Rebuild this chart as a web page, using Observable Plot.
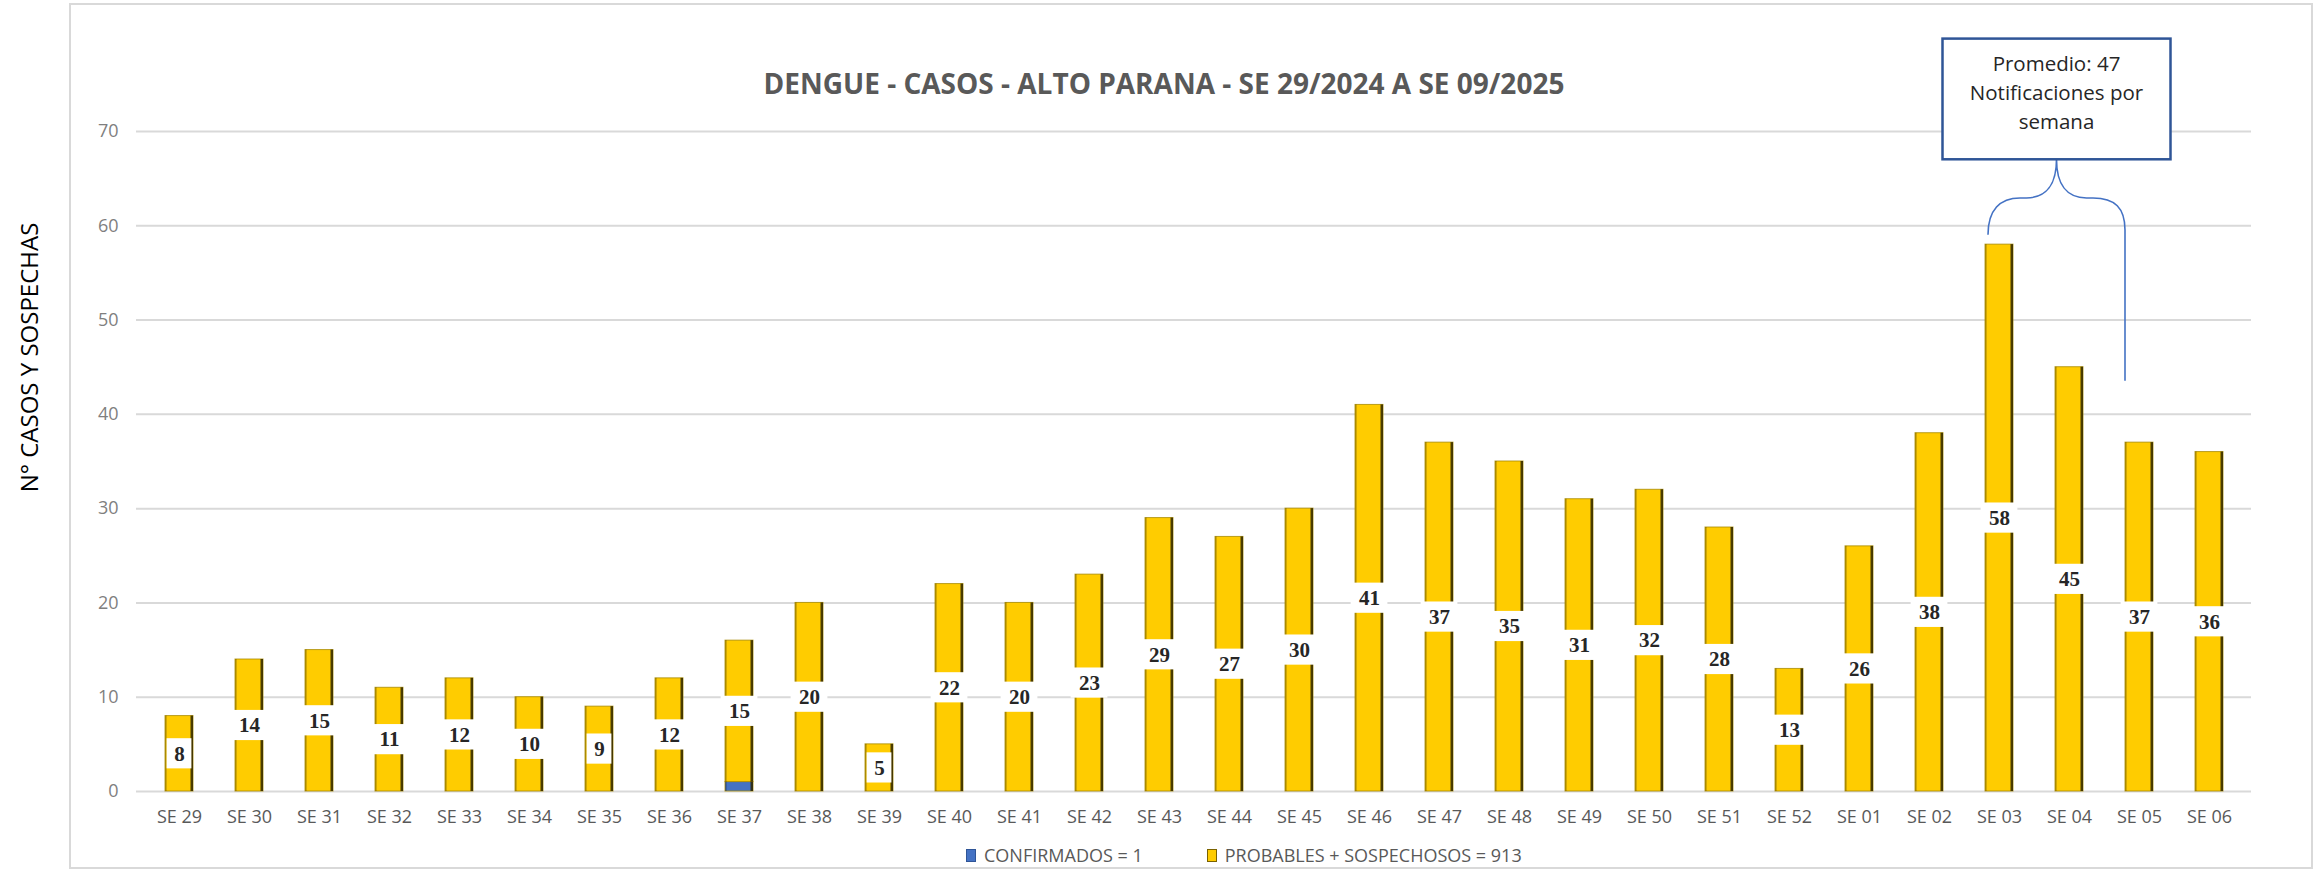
<!DOCTYPE html>
<html>
<head>
<meta charset="utf-8">
<script src="https://cdn.jsdelivr.net/npm/d3@7"></script>
<script src="https://cdn.jsdelivr.net/npm/@observablehq/plot@0.6"></script>
<style>
  html, body { margin: 0; padding: 0; background: #fff; }
  #wrap { position: relative; width: 2317px; height: 869px; overflow: hidden; font-family: "Open Sans", sans-serif; }
  #frame { position: absolute; left: 69px; top: 3px; width: 2240px; height: 862px; border: 2px solid #d9d9d9; box-sizing: content-box; }
  #chart { position: absolute; left: 0; top: 0; }
  #legend { position: absolute; left: 966px; top: 845px; display: flex; align-items: center; font-size: 18px; line-height: 20px; color: #595959; white-space: nowrap; }
  #legend .sw { display: inline-block; width: 8px; height: 11px; margin-right: 8px; }
  #legend .item { display: flex; align-items: center; margin-right: 64px; }
</style>
</head>
<body>
<div id="wrap">
  <div id="frame"></div>
  <div id="chart"></div>
  <div id="legend"></div>
</div>
<script>
// ---- data ----
const weeks = ["SE 29","SE 30","SE 31","SE 32","SE 33","SE 34","SE 35","SE 36","SE 37","SE 38","SE 39","SE 40","SE 41","SE 42","SE 43","SE 44","SE 45","SE 46","SE 47","SE 48","SE 49","SE 50","SE 51","SE 52","SE 01","SE 02","SE 03","SE 04","SE 05","SE 06"];
const confirmados = [0,0,0,0,0,0,0,0,1,0,0,0,0,0,0,0,0,0,0,0,0,0,0,0,0,0,0,0,0,0];
const probables   = [8,14,15,11,12,10,9,12,15,20,5,22,20,23,29,27,30,41,37,35,31,32,28,13,26,38,58,45,37,36];
const series = ["CONFIRMADOS = 1", "PROBABLES + SOSPECHOSOS = 913"];
const seriesColors = ["#4472C4", "#FFCC00"];
const yTicks = [0,10,20,30,40,50,60,70];
const title = "DENGUE - CASOS - ALTO PARANA - SE 29/2024 A SE 09/2025";
const yLabel = "N° CASOS Y SOSPECHAS";
const calloutLines = ["Promedio: 47", "Notificaciones por", "semana"];
const braceWeeks = ["SE 03", "SE 05"];

// annotation anchors (data units)
const braceEndValues = [59, 43.5];
const braceLevel = 62.9;
const boxBottomValue = 67;
const boxTopValue = 79.8;

// ---- tables ----
const rows = [];
weeks.forEach((w, i) => {
  rows.push({week: w, serie: series[0], v: confirmados[i]});
  rows.push({week: w, serie: series[1], v: probables[i]});
});
const labels = weeks.map((w, i) => ({week: w, y: confirmados[i] + probables[i] / 2, txt: String(probables[i])}));

function callout(index, scales) {
  const x = scales.x, y = scales.y;
  const xl = x(braceWeeks[0]) + 3;
  const xr = x(braceWeeks[1]);
  const xm = (xl + xr) / 2;
  const yL = y(braceEndValues[0]), yR = y(braceEndValues[1]);
  const yH = y(braceLevel), yB = y(boxBottomValue), yT = y(boxTopValue);
  const g = d3.create("svg:g");
  const p = d3.path();
  p.moveTo(xl, yL);
  p.bezierCurveTo(xl, yH + 12, xl + 12, yH, xl + 32, yH);
  p.lineTo(xm - 30, yH);
  p.bezierCurveTo(xm - 10, yH, xm, yH - 14, xm, yB);
  p.bezierCurveTo(xm, yH - 14, xm + 10, yH, xm + 30, yH);
  p.lineTo(xr - 32, yH);
  p.bezierCurveTo(xr - 10, yH, xr, yH + 10, xr, yH + 32);
  p.lineTo(xr, yR);
  g.append("path").attr("d", p.toString()).attr("fill", "none").attr("stroke", "#4472C4").attr("stroke-width", 1.6);
  g.append("rect").attr("x", xm - 114).attr("y", yT).attr("width", 228).attr("height", yB - yT)
    .attr("fill", "white").attr("stroke", "#2F5597").attr("stroke-width", 2.5);
  const cy = (yT + yB) / 2 - 6;
  calloutLines.forEach((t, i) => {
    g.append("text").attr("x", xm).attr("y", cy + (i - 1) * 29).attr("dy", "0.35em")
      .attr("text-anchor", "middle").attr("font-family", "Open Sans").attr("font-size", 20.5)
      .attr("fill", "#262626").text(t);
  });
  return g.node();
}

const chart = Plot.plot({
  width: 2317,
  height: 869,
  marginLeft: 136,
  marginRight: 66,
  marginTop: 131,
  marginBottom: 78,
  style: {background: "none", fontFamily: "Open Sans", fontSize: "18px", overflow: "visible"},
  x: {domain: weeks, paddingInner: 0.6, paddingOuter: 0.3, axis: null},
  y: {domain: [0, 70], axis: null},
  color: {domain: series, range: seriesColors},
  marks: [
    Plot.ruleY(yTicks, {stroke: "#d9d9d9", strokeWidth: 2}),
    Plot.axisY({ticks: yTicks, tickSize: 0, tickPadding: 18, fontSize: 18, color: "#7f7f7f", label: null}),
    Plot.axisX({tickSize: 0, tickPadding: 19, fontSize: 18, color: "#595959", label: null}),
    Plot.barY(rows, {x: "week", y: "v", fill: "serie", order: series, stroke: "#a88a00", strokeWidth: 1, strokeOpacity: 0.8}),
    Plot.barY(rows, {x: "week", y: "v", z: "serie", order: series, fill: "black", fillOpacity: 0.22, insetRight: 26.2}),
    Plot.barY(rows, {x: "week", y: "v", z: "serie", order: series, fill: "#2b2300", fillOpacity: 0.85, insetLeft: 25.5}),
    Plot.barY(labels.filter(d => d.txt.length === 1), {x: "week", y1: d => d.y - 1.6, y2: d => d.y + 1.6, fill: "white", insetLeft: 1.6, insetRight: 1.6}),
    Plot.barY(labels.filter(d => d.txt.length > 1), {x: "week", y1: d => d.y - 1.6, y2: d => d.y + 1.6, fill: "white", insetLeft: -4.4, insetRight: -4.4}),
    Plot.text(labels, {x: "week", y: "y", text: "txt", fontFamily: "Liberation Serif", fontWeight: "bold", fontSize: 21, fill: "#262626"}),
    Plot.text([title], {frameAnchor: "top", lineAnchor: "middle", textAnchor: "middle", dx: -30, dy: -46, fontSize: 28, fontWeight: "bold", fill: "#595959"}),
    Plot.text([yLabel], {frameAnchor: "left", lineAnchor: "middle", textAnchor: "middle", rotate: -90, dx: -106, dy: -104, fontSize: 24, fill: "#000"}),
    callout
  ]
});
document.getElementById("chart").appendChild(chart);

// legend
const legend = document.getElementById("legend");
series.forEach((s, i) => {
  const item = document.createElement("span");
  item.className = "item";
  const sw = document.createElement("span");
  sw.className = "sw";
  sw.style.background = seriesColors[i];
  sw.style.border = "1px solid " + (i === 0 ? "#2F5597" : "#7a6200");
  const t = document.createElement("span");
  t.textContent = s;
  item.appendChild(sw);
  item.appendChild(t);
  legend.appendChild(item);
});
</script>
</body>
</html>
